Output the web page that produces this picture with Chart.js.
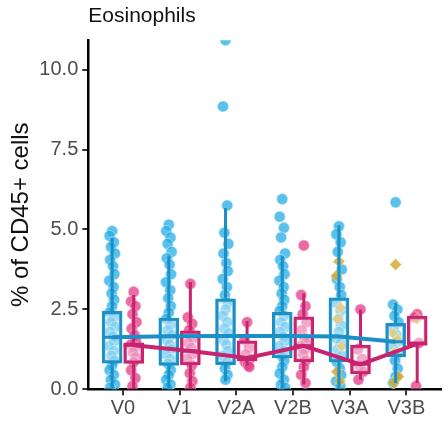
<!DOCTYPE html>
<html><head><meta charset="utf-8">
<script src="https://cdn.jsdelivr.net/npm/chart.js@4/dist/chart.umd.min.js"></script>
<style>html,body{margin:0;padding:0;background:#fff}#wrap{width:448px;height:421px;position:relative}</style>
</head><body><div id="wrap"><canvas id="c"></canvas></div>
<script>
const categories = ['V0','V1','V2A','V2B','V3A','V3B'];
const yTicks = [0, 2.5, 5, 7.5, 10];

const blueQ1     = [0.82, 0.75, 0.77, 0.98, 0.86, 1.02];
const blueMedian = [1.63, 1.66, 1.67, 1.67, 1.65, 1.49];
const blueQ3     = [2.44, 2.23, 2.83, 2.41, 2.86, 2.06];
const blueLow    = [0.03, 0.03, 0.25, 0.05, 0.05, 0.2];
const blueHigh   = [4.73, 4.16, 5.67, 4.16, 5.13, 2.7];

const pinkQ1     = [0.81, 0.76, 0.89, 0.86, 0.48, 1.40];
const pinkMedian = [1.38, 1.20, 0.98, 1.36, 0.78, 1.42];
const pinkQ3     = [1.45, 1.83, 1.52, 2.27, 1.38, 2.29];
const pinkLow    = [0.03, 0.03, 0.75, 0.15, 0.3, 0.2];
const pinkHigh   = [2.95, 3.36, 2.14, 3.0, 2.5, 2.29];

const bluePoints = [
  [4.95,4.8,4.6,4.45,4.25,4.05,3.85,3.6,3.4,3.2,3.0,2.8,2.6,2.4,2.25,2.1,1.95,1.8,1.65,1.5,1.35,1.2,1.05,0.9,0.75,0.6,0.45,0.3,0.15,0.05],
  [5.15,4.95,4.75,4.55,4.3,4.1,3.9,3.6,3.35,3.1,2.85,2.6,2.4,2.2,2.0,1.85,1.7,1.55,1.4,1.25,1.1,0.95,0.8,0.6,0.45,0.3,0.15,0.05],
  [10.92,8.85,5.75,4.9,4.55,4.25,3.95,3.7,3.45,3.2,2.95,2.7,2.5,2.3,2.1,1.9,1.75,1.55,1.4,1.2,1.05,0.85,0.65,0.45,0.3],
  [5.95,5.4,5.05,4.75,4.25,4.05,3.85,3.6,3.4,3.2,3.0,2.8,2.6,2.45,2.3,2.1,1.95,1.8,1.65,1.5,1.35,1.2,1.05,0.9,0.7,0.5,0.3,0.15,0.05],
  [5.1,4.85,4.6,4.3,3.75,3.45,3.2,2.95,2.7,2.45,2.2,2.0,1.8,1.6,1.45,1.25,1.05,0.85,0.65,0.45,0.25,0.1],
  [5.85,2.65,2.5,2.3,2.1,1.9,1.7,1.5,1.3,1.1,0.9,0.65,0.4,0.2]
];
const pinkPoints = [
  [3.05,2.75,2.6,2.35,2.1,1.9,1.7,1.5,1.4,1.3,1.15,1.0,0.85,0.6,0.35,0.1],
  [3.3,2.25,2.05,1.85,1.6,1.45,1.3,1.1,0.95,0.75,0.5,0.25,0.05],
  [2.1,1.55,1.3,1.1,0.95,0.85,0.75,0.7],
  [4.5,2.95,2.6,2.35,2.1,1.85,1.6,1.45,1.35,1.25,1.1,0.9,0.7,0.45,0.2],
  [2.5,1.25,0.95,0.75,0.55,0.3],
  [2.35,2.25,1.45,0.1]
];
const goldPoints = [
  [], [], [], [],
  [4.0,3.55,2.55,2.2,1.35,0.55,0.25],
  [3.9,1.75,1.55,1.15,0.4,0.2]
];
const goldPinkPoints = [[],[],[],[],[],[2.2]];

const BLUE = '#1b90c6', PINK = '#c8236f';
const blueOff = -0.19, pinkOff = 0.19, halfW = 0.177;
const jit = [0,-0.045,0.03,-0.02,0.05,-0.035,0.015,0.04,-0.05,0.025,-0.01,0.035];

function pts(groups, off) {
  const out = [];
  groups.forEach((vals, i) => vals.forEach((v, k) => out.push({x: i + off + jit[k % jit.length], y: v})));
  return out;
}
function boxes(q1, q3, off) {
  return categories.map((c, i) => ({x: i + off, y: [q1[i], q3[i]]}));
}
function whiskers(q1, q3, lo, hi, off) {
  const out = [];
  categories.forEach((c, i) => {
    out.push({x: i + off, y: q3[i]}, {x: i + off, y: hi[i]}, {x: NaN, y: null});
    out.push({x: i + off, y: q1[i]}, {x: i + off, y: lo[i]}, {x: NaN, y: null});
  });
  return out;
}
function medSegs(med, off) {
  const out = [];
  categories.forEach((c, i) => {
    out.push({x: i + off - halfW, y: med[i]}, {x: i + off + halfW, y: med[i]}, {x: NaN, y: null});
  });
  return out;
}
function medLine(med, off) {
  return categories.map((c, i) => ({x: i + off, y: med[i]}));
}

const FONT = "'Liberation Sans', Arial, Helvetica, sans-serif";

const datasets = [
  {type:'line', data: medLine(blueMedian, blueOff), borderColor: BLUE, borderWidth: 4, pointRadius: 0, fill: false, order: 1},
  {type:'line', data: medLine(pinkMedian, pinkOff), borderColor: PINK, borderWidth: 4, pointRadius: 0, fill: false, order: 1},
  {type:'line', data: medSegs(blueMedian, blueOff), borderColor: BLUE, borderWidth: 3, pointRadius: 0, spanGaps: false, fill: false, order: 2},
  {type:'line', data: medSegs(pinkMedian, pinkOff), borderColor: PINK, borderWidth: 3, pointRadius: 0, spanGaps: false, fill: false, order: 2},
  {type:'bar', data: boxes(blueQ1, blueQ3, blueOff), grouped: false, barThickness: 20, borderColor: BLUE, borderWidth: 3, borderSkipped: false, backgroundColor: 'rgba(255,255,255,0.4)', order: 3},
  {type:'bar', data: boxes(pinkQ1, pinkQ3, pinkOff), grouped: false, barThickness: 20, borderColor: PINK, borderWidth: 3, borderSkipped: false, backgroundColor: 'rgba(255,255,255,0.4)', order: 3},
  {type:'line', data: whiskers(blueQ1, blueQ3, blueLow, blueHigh, blueOff), borderColor: BLUE, borderWidth: 3, pointRadius: 0, spanGaps: false, fill: false, order: 4},
  {type:'line', data: whiskers(pinkQ1, pinkQ3, pinkLow, pinkHigh, pinkOff), borderColor: PINK, borderWidth: 3, pointRadius: 0, spanGaps: false, fill: false, order: 4},
  {type:'scatter', data: pts(goldPoints, blueOff), pointStyle: 'rectRot', pointRadius: 6, backgroundColor: 'rgba(214,170,50,0.85)', borderColor: 'rgba(255,255,255,0.4)', borderWidth: 1, order: 5},
  {type:'scatter', data: pts(goldPinkPoints, pinkOff), pointStyle: 'rectRot', pointRadius: 6, backgroundColor: 'rgba(214,170,50,0.6)', borderColor: 'rgba(255,255,255,0.4)', borderWidth: 1, order: 5},
  {type:'scatter', data: pts(bluePoints, blueOff), pointRadius: 5.5, backgroundColor: 'rgba(36,172,228,0.75)', borderColor: 'rgba(200,235,250,0.6)', borderWidth: 1, order: 6},
  {type:'scatter', data: pts(pinkPoints, pinkOff), pointRadius: 5.5, backgroundColor: 'rgba(226,60,132,0.75)', borderColor: 'rgba(250,200,225,0.6)', borderWidth: 1, order: 6}
];

new Chart(document.getElementById('c'), {
  type: 'scatter',
  data: {datasets},
  options: {
    responsive: true, maintainAspectRatio: false, animation: false, devicePixelRatio: 1,
    layout: {padding: 0},
    plugins: {
      legend: {display: false},
      tooltip: {enabled: false},
      title: {display: true, text: 'Eosinophils', align: 'start', fullSize: false, color: '#111',
        font: {family: FONT, size: 21, weight: 'normal'}, padding: {top: 4, bottom: 11}}
    },
    scales: {
      x: {
        type: 'linear', min: -0.61, max: 5.61, offset: false,
        afterBuildTicks: s => { s.ticks = categories.map((c, i) => ({value: i})); },
        afterFit: s => { s.height = 31.7; s.paddingRight = 0; s.paddingLeft = 0; },
        ticks: {callback: v => categories[v], color: '#4d4d4d', font: {family: FONT, size: 20}, padding: 1, autoSkip: false, maxRotation: 0},
        grid: {display: true, offset: false, drawOnChartArea: false, drawTicks: true, tickLength: 6, color: '#333', lineWidth: 2},
        border: {display: true, color: '#000', width: 2.5}
      },
      y: {
        type: 'linear', min: 0, max: 10.92,
        afterBuildTicks: s => { s.ticks = yTicks.map(v => ({value: v})); },
        afterFit: s => { s.width = 88.3; },
        ticks: {callback: v => Number(v).toFixed(1), color: '#4d4d4d', font: {family: FONT, size: 20}, padding: 4},
        grid: {display: true, drawOnChartArea: false, drawTicks: true, tickLength: 6, color: '#333', lineWidth: 2},
        border: {display: true, color: '#000', width: 2.5},
        title: {display: true, text: '% of CD45+ cells', color: '#111', font: {family: FONT, size: 24}, padding: {top: 7, bottom: 0}}
      }
    }
  }
});
</script>
</body></html>
